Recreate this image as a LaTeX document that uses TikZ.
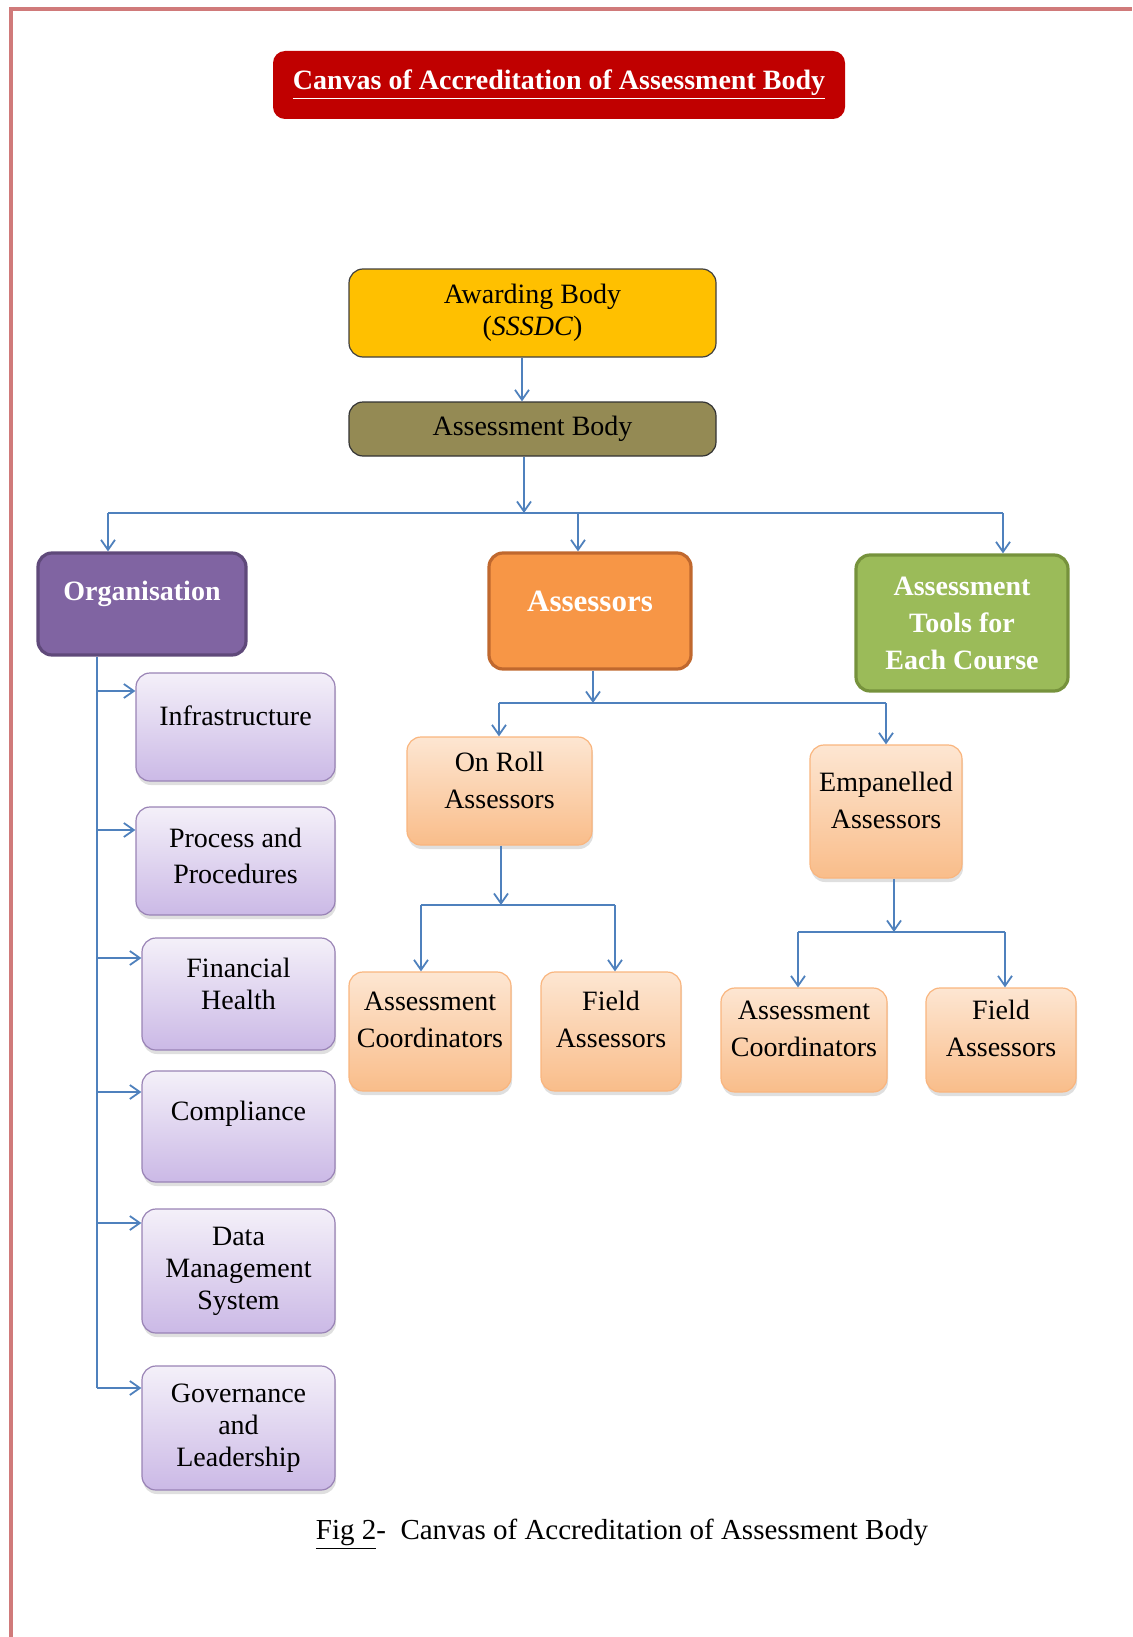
\documentclass[tikz,border=0pt]{standalone}
\usepackage{fontspec}
\setmainfont{Liberation Serif}
\usetikzlibrary{arrows.meta,shadows}

\definecolor{linkblue}{HTML}{4F81BD}
\definecolor{framered}{HTML}{D07A7A}
\definecolor{titlered}{HTML}{C00000}
\definecolor{gold}{HTML}{FFC000}
\definecolor{olive}{HTML}{948A54}
\definecolor{plum}{HTML}{8064A2}
\definecolor{plumdark}{HTML}{5F497A}
\definecolor{tangerine}{HTML}{F79646}
\definecolor{tangerinedark}{HTML}{C0682E}
\definecolor{leaf}{HTML}{9BBB59}
\definecolor{leafdark}{HTML}{76923C}
\definecolor{lilactop}{HTML}{F4F0F9}
\definecolor{lilacbot}{HTML}{CBB9E6}
\definecolor{peachtop}{HTML}{FDE6D2}
\definecolor{peachbot}{HTML}{F9BD8A}

\begin{document}
\begin{tikzpicture}[x=0.5pt,y=-0.5pt,>={Straight Barb[length=5pt,width=7pt]},
  link/.style={draw=linkblue,line width=0.9pt},
  box/.style={rounded corners=7pt,align=center,inner sep=2pt,font=\fontsize{14}{16}\selectfont},
  up/.style={text depth=#1},
  head node/.style={box,line width=1.6pt,text=white,font=\bfseries\fontsize{14}{18.5}\selectfont},
  lilac node/.style={box,draw=plum!80,line width=0.6pt,top color=lilactop,bottom color=lilacbot,
    drop shadow={opacity=0.25,shadow xshift=0.5pt,shadow yshift=-2pt}},
  peach node/.style={box,draw=tangerine!70,line width=0.6pt,top color=peachtop,bottom color=peachbot,
    font=\fontsize{14}{18.5}\selectfont,drop shadow={opacity=0.25,shadow xshift=0.5pt,shadow yshift=-2pt}}]

\draw[framered,line width=1.6pt] (11,1637) -- (11,9) -- (1132,9);

% title
\node[box,fill=titlered,rounded corners=6pt,minimum width=286pt,minimum height=34pt,text=white,
  font=\bfseries\fontsize{14}{16}\selectfont] (title) at (559,85) {\underline{Canvas of Accreditation of Assessment Body}};

% top of the tree
\node[box,draw=black!75,fill=gold,line width=0.6pt,minimum width=183.5pt,minimum height=44pt] (award) at (532.5,313)
  {Awarding Body\\(\textit{SSSDC})};
\node[box,draw=black!80,fill=olive,line width=0.6pt,minimum width=183.5pt,minimum height=27pt] (ab) at (532.5,429)
  {Assessment Body};

\node[head node,draw=plumdark,fill=plum,minimum width=104pt,minimum height=51pt,up=13pt] (org) at (142,604) {Organisation};
\node[head node,draw=tangerinedark,fill=tangerine,minimum width=101pt,minimum height=58pt,up=10pt,
  font=\bfseries\fontsize{15.5}{18.5}\selectfont] (ass) at (590,611) {Assessors};
\node[head node,draw=leafdark,fill=leaf,minimum width=106pt,minimum height=68pt] (tools) at (962,623)
  {Assessment\\Tools for\\Each Course};

% organisation
\node[lilac node,minimum width=99.5pt,minimum height=54pt,up=11pt] (infra) at (235.5,727) {Infrastructure};
\node[lilac node,minimum width=99.5pt,minimum height=54pt,up=5pt,font=\fontsize{14}{18}\selectfont] (proc) at (235.5,861)
  {Process and\\Procedures};
\node[lilac node,minimum width=96.5pt,minimum height=56pt,up=10pt] (fin) at (238.5,994) {Financial\\Health};
\node[lilac node,minimum width=96.5pt,minimum height=55.5pt,up=16pt] (comp) at (238.5,1126.5) {Compliance};
\node[lilac node,minimum width=96.5pt,minimum height=62pt] (data) at (238.5,1271) {Data\\Management\\System};
\node[lilac node,minimum width=96.5pt,minimum height=62pt] (gov) at (238.5,1428) {Governance\\and\\Leadership};

% assessors
\node[peach node,minimum width=92.5pt,minimum height=54pt,up=11pt] (roll) at (499.5,791) {On Roll\\Assessors};
\node[peach node,minimum width=76pt,minimum height=66.5pt,up=11pt] (emp) at (886,811.5) {Empanelled\\Assessors};
\node[peach node,minimum width=81pt,minimum height=59.5pt,up=12pt] (rac) at (430,1031.5) {Assessment\\Coordinators};
\node[peach node,minimum width=70pt,minimum height=59.5pt,up=12pt] (rfa) at (611,1031.5) {Field\\Assessors};
\node[peach node,minimum width=83pt,minimum height=52pt,up=11.5pt] (eac) at (804,1040) {Assessment\\Coordinators};
\node[peach node,minimum width=75pt,minimum height=52pt,up=11.5pt] (efa) at (1001,1040) {Field\\Assessors};

% caption
\node[font=\fontsize{14.5}{16}\selectfont] (cap) at (622,1534) {\underline{Fig 2}-\ \ Canvas of Accreditation of Assessment Body};

% links
\coordinate (b0) at (524,513);
\coordinate (bl) at (108,513);
\coordinate (bm) at (578,513);
\coordinate (br) at (1003,513);
\draw[link,->] ([xshift=-5.25pt]award.south) -- ([xshift=-5.25pt]ab.north);
\draw[link,->] (ab.south -| b0) -- (b0);
\draw[link] (bl) -- (br);
\draw[link,->] (bl) -- (bl |- org.north);
\draw[link,->] (bm) -- (bm |- ass.north);
\draw[link,->] (br) -- (br |- tools.north);

\coordinate (spine) at (97,1388);
\draw[link] (org.south -| spine) -- (spine);
\foreach \n/\y in {infra/691,proc/830,fin/958,comp/1092,data/1223,gov/1388}{
  \coordinate (s) at (97,\y);
  \draw[link,->] (s) -- (s -| \n.west);
}

\coordinate (a0) at (593,703);
\coordinate (al) at (499,703);
\coordinate (ar) at (886,703);
\draw[link,->] (ass.south -| a0) -- (a0);
\draw[link] (al) -- (ar);
\draw[link,->] (al) -- (al |- roll.north);
\draw[link,->] (ar) -- (ar |- emp.north);

\coordinate (r0) at (501,905);
\coordinate (rl) at (421,905);
\coordinate (rr) at (615,905);
\draw[link,->] (roll.south -| r0) -- (r0);
\draw[link] (rl) -- (rr);
\draw[link,->] (rl) -- (rl |- rac.north);
\draw[link,->] (rr) -- (rr |- rfa.north);

\coordinate (e0) at (894,932);
\coordinate (el) at (798,932);
\coordinate (er) at (1005,932);
\draw[link,->] (emp.south -| e0) -- (e0);
\draw[link] (el) -- (er);
\draw[link,->] (el) -- (el |- eac.north);
\draw[link,->] (er) -- (er |- efa.north);

\pgfresetboundingbox
\useasboundingbox (0,0) rectangle (1132,1637);
\end{tikzpicture}
\end{document}
